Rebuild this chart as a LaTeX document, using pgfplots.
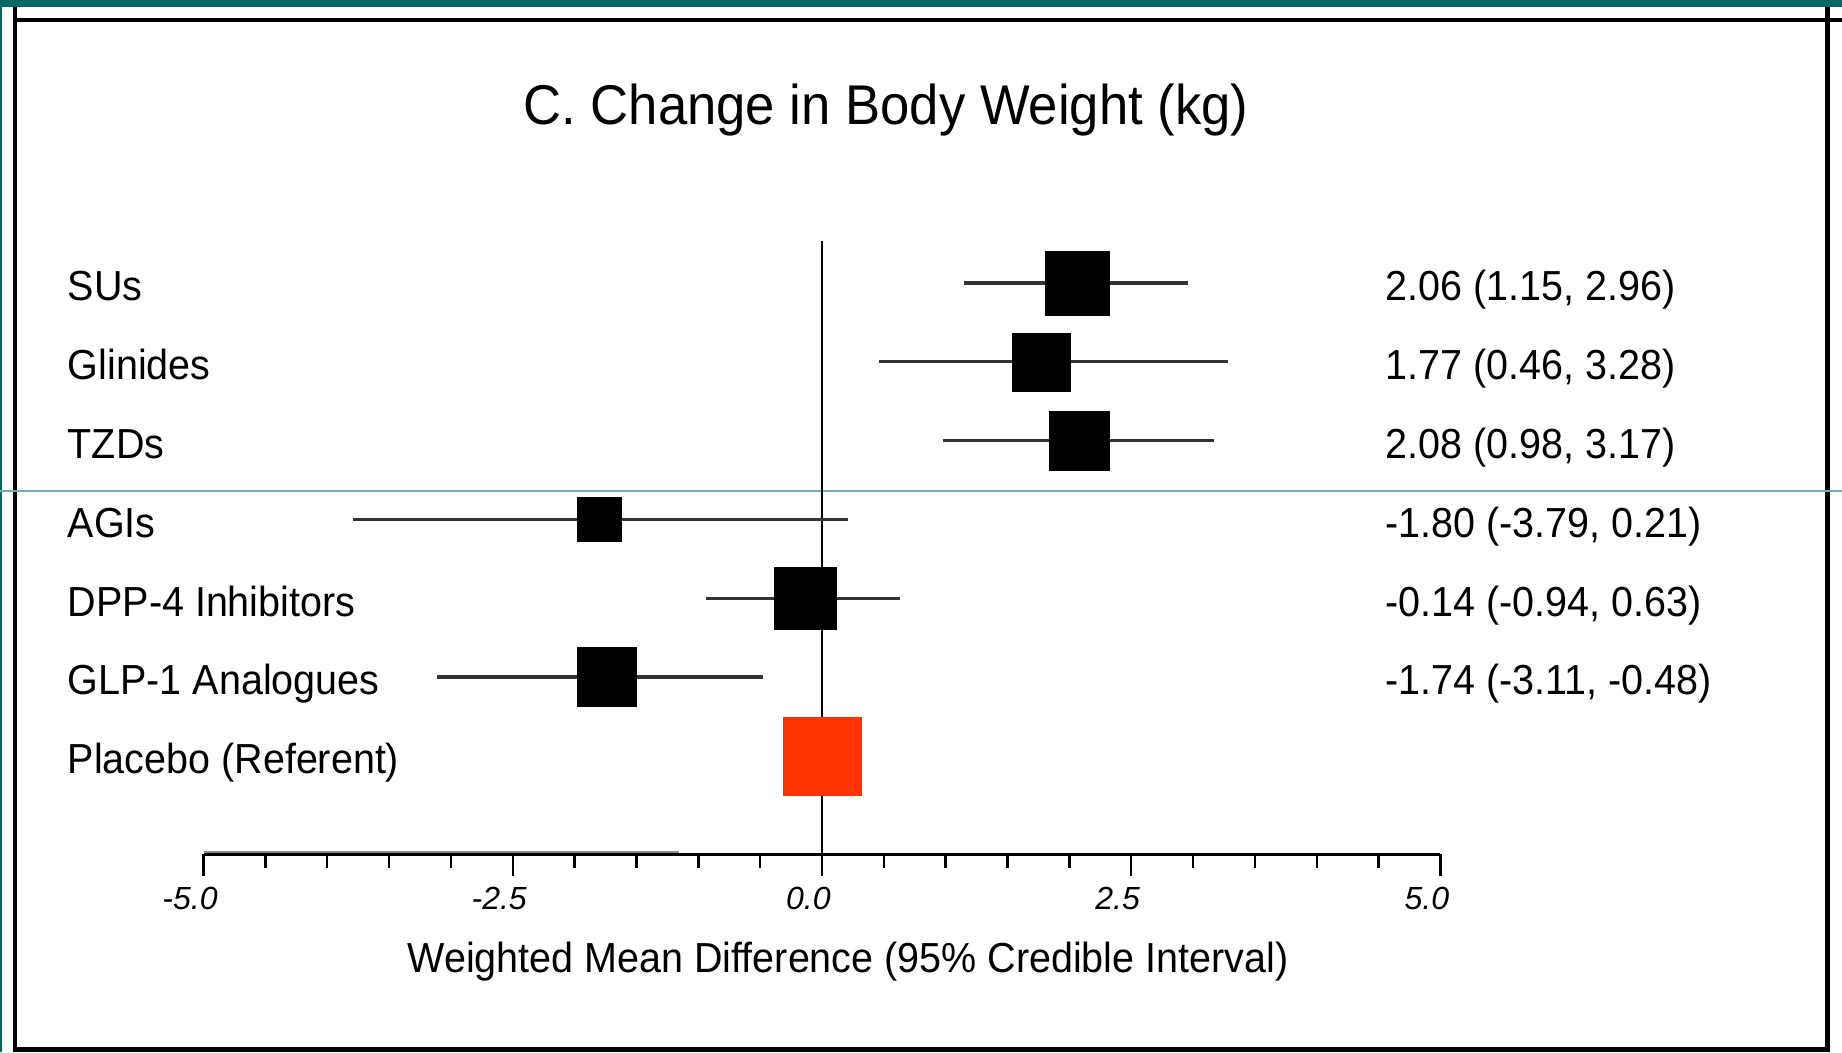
\documentclass[border=0pt]{standalone}
\usepackage{fontspec}
\setmainfont{Liberation Sans}[FakeStretch=0.94]
\newfontfamily\tickfont{Liberation Sans}
\usepackage{pgfplots}
\pgfplotsset{compat=1.18}

\definecolor{framebar}{RGB}{0,104,104}
\definecolor{referent}{RGB}{255,51,0}

\pgfplotsset{
  ci/.style={black!80, line width=0.8pt, forget plot},
  est/.style={only marks, mark=square*, mark options={fill=black, draw=black, line width=0.1pt}},
}
\tikzset{
  rowlab/.style={anchor=base west, inner sep=0pt, yshift=-4.5pt, font=\fontsize{10.5}{12}\selectfont},
}

\begin{document}
\begin{tikzpicture}
\begin{scope}[x=0.25pt,y=-0.25pt]
  \path[use as bounding box] (0,0) rectangle (1842,1052);
  % page frame
  \fill[framebar] (0,0) rectangle (1842,7);
  \fill[framebar] (0,0) rectangle (2,1052);
  \draw[line width=1pt] (15,7) -- (15,1052);
  \draw[line width=1pt] (13,20) -- (1842,20);
  \draw[line width=1.25pt] (1827.5,7) -- (1827.5,1052);
  \draw[line width=1.25pt] (13,1049.5) -- (1830,1049.5);
  \draw[framebar!55, line width=0.3pt] (0,491) -- (1842,491);
  % titles
  \node[anchor=base, inner sep=0pt, font=\fontsize{14}{16}\selectfont] at (886,124) {C. Change in Body Weight (kg)};
  \node[anchor=base, inner sep=0pt, font=\fontsize{10.5}{12}\selectfont] at (848,972) {Weighted Mean Difference (95\% Credible Interval)};
\end{scope}

\begin{axis}[
  at={(50.9pt,-213.575pt)}, anchor=south west,
  scale only axis, width=309.2pt, height=153.3pt,
  xmin=-5, xmax=5, ymin=-8.250, ymax=-0.469,
  clip=false,
  axis x line*=bottom, axis y line=none,
  x axis line style={line width=0.8pt},
  xtick={-5,-2.5,0,2.5,5},
  xticklabels={-5.0,-2.5,0.0,2.5,5.0},
  minor xtick={-4.5,-4,-3.5,-3,-2,-1.5,-1,-0.5,0.5,1,1.5,2,3,3.5,4,4.5},
  tick align=outside,
  major tick length=5.4pt, minor tick length=3.3pt,
  tick style={black, line width=0.6pt},
  xticklabel style={font=\tickfont\itshape\fontsize{8}{9}\selectfont, anchor=base, yshift=-8.4pt, xshift=-3.4pt},
]
  % reference line at zero
  \addplot[black, line width=0.7pt, forget plot] coordinates {(0,-0.469) (0,-8.250)};
  \draw[black!45, line width=0.5pt] (axis cs:-5,-8.217) -- (axis cs:-1.16,-8.217);

  % SUs
  \addplot[ci] coordinates {(1.15,-1) (2.96,-1)};
  \addplot[est, mark size=8pt] coordinates {(2.06,-1)};
  % Glinides
  \addplot[ci] coordinates {(0.46,-2) (3.28,-2)};
  \addplot[est, mark size=7.25pt] coordinates {(1.77,-2)};
  % TZDs
  \addplot[ci] coordinates {(0.98,-3) (3.17,-3)};
  \addplot[est, mark size=7.4pt] coordinates {(2.08,-3)};
  % AGIs
  \addplot[ci] coordinates {(-3.79,-4) (0.21,-4)};
  \addplot[est, mark size=5.5pt] coordinates {(-1.80,-4)};
  % DPP-4 inhibitors
  \addplot[ci] coordinates {(-0.94,-5) (0.63,-5)};
  \addplot[est, mark size=7.75pt] coordinates {(-0.14,-5)};
  % GLP-1 analogues
  \addplot[ci] coordinates {(-3.11,-6) (-0.48,-6)};
  \addplot[est, mark size=7.4pt] coordinates {(-1.74,-6)};
  % placebo (referent)
  \addplot[only marks, mark=square*, mark size=9.75pt,
    mark options={fill=referent, draw=referent, line width=0.1pt}] coordinates {(0,-7)};

  % treatment names
  \node[rowlab] at (axis cs:-6.104,-1) {SUs};
  \node[rowlab] at (axis cs:-6.104,-2) {Glinides};
  \node[rowlab] at (axis cs:-6.104,-3) {TZDs};
  \node[rowlab] at (axis cs:-6.104,-4) {AGIs};
  \node[rowlab] at (axis cs:-6.104,-5) {DPP-4 Inhibitors};
  \node[rowlab] at (axis cs:-6.104,-6) {GLP-1 Analogues};
  \node[rowlab] at (axis cs:-6.104,-7) {Placebo (Referent)};

  % estimates with credible intervals
  \node[rowlab] at (axis cs:4.55,-1) {2.06 (1.15, 2.96)};
  \node[rowlab] at (axis cs:4.55,-2) {1.77 (0.46, 3.28)};
  \node[rowlab] at (axis cs:4.55,-3) {2.08 (0.98, 3.17)};
  \node[rowlab] at (axis cs:4.55,-4) {-1.80 (-3.79, 0.21)};
  \node[rowlab] at (axis cs:4.55,-5) {-0.14 (-0.94, 0.63)};
  \node[rowlab] at (axis cs:4.55,-6) {-1.74 (-3.11, -0.48)};
\end{axis}
\end{tikzpicture}
\end{document}
